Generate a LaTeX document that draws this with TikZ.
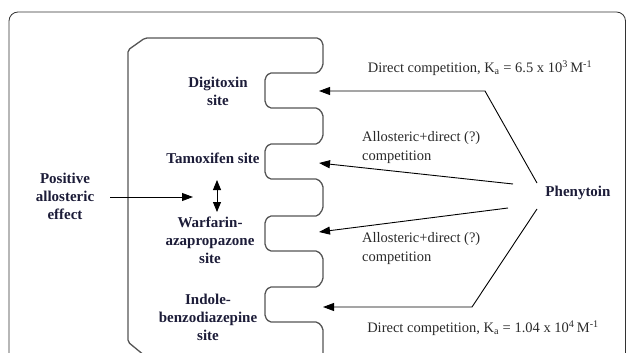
\documentclass[tikz,border=0pt]{standalone}
\usepackage{fontspec}
\setmainfont{Liberation Serif}
\usetikzlibrary{arrows.meta}
\definecolor{labelc}{HTML}{1C1C38}
\definecolor{notec}{HTML}{2A2A2A}
\definecolor{protc}{HTML}{555555}
\definecolor{framec}{HTML}{333333}
\begin{document}
\begin{tikzpicture}[x=1pt,y=-1pt,
  lbl/.style={font=\fontsize{15}{18}\selectfont\bfseries, text=labelc, align=center, inner sep=0pt},
  note/.style={font=\fontsize{14.5}{19}\selectfont, text=notec, inner sep=0pt},
  arr/.style={draw=black, line width=0.9pt, -{Triangle[length=11pt,width=8pt]}},
  con/.style={draw=black, line width=0.9pt},
  prot/.style={draw=protc, line width=1.3pt, rounded corners=2pt}]
\useasboundingbox (0,0) rectangle (627,353);
\clip (0,0) rectangle (627,353);
\draw[line width=0.8pt, rounded corners=9pt, draw=framec] (9,12) rectangle (625.5,390);
% protein
\draw[prot] (145,356) -- (128,342) -- (128,50) -- (145,38) -- (319,38) -- (323,43)
  -- (323,66) -- (318,73) -- (269,73) -- (265,78) -- (265,103) -- (269,108) -- (318,108) -- (323,114)
  -- (323,137) -- (318,144) -- (269,144) -- (265,149) -- (265,174) -- (269,179) -- (318,179) -- (323,185)
  -- (323,209) -- (318,216) -- (269,216) -- (265,221) -- (265,246) -- (269,251) -- (318,251) -- (323,257)
  -- (323,280) -- (318,287) -- (269,287) -- (265,292) -- (265,317) -- (269,322) -- (318,322) -- (323,328)
  -- (323,365);
% site labels
\node[lbl] (dig) at (218,91) {Digitoxin\\site};
\node[lbl] (tam) at (213,158) {Tamoxifen site};
\node[lbl] (war) at (210,240) {Warfarin-\\azapropazone\\site};
\node[lbl] (ind) at (208,317) {Indole-\\benzodiazepine\\site};
\node[lbl] (pos) at (65,196) {Positive\\allosteric\\effect};
\node[lbl] (ph) at (578,193) {Phenytoin};
% notes
\node[note] (n1) at (480,68) {Direct competition, K\textsubscript{a} = 6.5 x 10\textsuperscript{3}\,M\textsuperscript{-1}};
\node[note, align=left, anchor=west] (n2) at (362,148) {Allosteric+direct (?)\\competition};
\node[note, align=left, anchor=west] (n3) at (362,249) {Allosteric+direct (?)\\competition};
\node[note] (n4) at (483,328) {Direct competition, K\textsubscript{a} = 1.04 x 10\textsuperscript{4}\,M\textsuperscript{-1}};
% coordinates
\coordinate (m1) at (319,91);
\coordinate (m2) at (319,163);
\coordinate (m3) at (319,232);
\coordinate (m4) at (323,307);
\coordinate (p1) at (537,183);
\coordinate (p2) at (513,184);
\coordinate (p3) at (508,208);
\coordinate (p4) at (537,209);
\coordinate (b1) at (485,91);
\coordinate (b4) at (472,307);
\coordinate (e0) at (110,197);
\coordinate (e1) at (193,197);
\coordinate (d0) at (217,180);
\coordinate (d1) at (217,212);
% connectors
\draw[arr] (p1) -- (b1) -- (m1);
\draw[arr] (p2) -- (m2);
\draw[arr] (p3) -- (m3);
\draw[arr] (p4) -- (b4) -- (m4);
\draw[arr] (e0) -- (e1);
\draw[con, {Triangle[length=10pt,width=8pt]}-{Triangle[length=10pt,width=8pt]}] (d0) -- (d1);
\end{tikzpicture}
\end{document}
